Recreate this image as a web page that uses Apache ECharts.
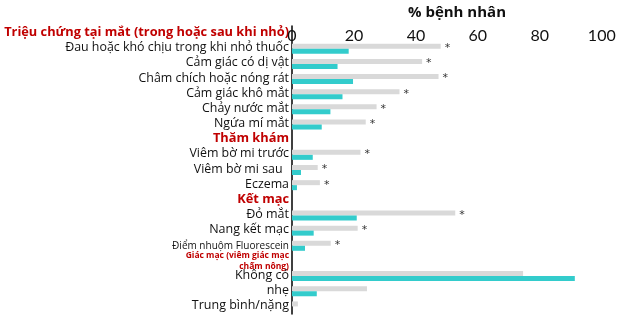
<!DOCTYPE html>
<html>
<head>
<meta charset="utf-8">
<script src="https://cdn.jsdelivr.net/npm/echarts@6/dist/echarts.min.js"></script>
<style>
    html, body { margin: 0; padding: 0; background: #fff; }
    #chart { width: 624px; height: 323px; }
</style>
</head>
<body>
<div id="chart"></div>
<script>
// rows top to bottom, section headers are empty rows
let categories = [
    "Triệu chứng tại mắt (trong hoặc sau khi nhỏ)",
    "Đau hoặc khó chịu trong khi nhỏ thuốc",
    "Cảm giác có dị vật",
    "Châm chích hoặc nóng rát",
    "Cảm giác khô mắt",
    "Chảy nước mắt",
    "Ngứa mí mắt",
    "Thăm khám",
    "Viêm bờ mi trước",
    "Viêm bờ mi sau  ",
    "Eczema",
    "Kết mạc",
    "Đỏ mắt",
    "Nang kết mạc",
    "Điểm nhuộm Fluorescein",
    "Giác mạc (viêm giác mạc\nchấm nông)",
    "Không có",
    "nhẹ",
    "Trung bình/nặng"
];
let greyValues = [null, 48, 42, 47.3, 34.7, 27.3, 23.8, null, 22.1, 8.3, 9, null, 52.7, 21.2, 12.5, null, 74.6, 24.2, 1.9];
let tealValues = [null, 18.3, 14.7, 19.7, 16.3, 12.4, 9.6, null, 6.7, 2.9, 1.6, null, 20.9, 7, 4.2, null, 91.3, 8, 0];
let starred = [false, true, true, true, true, true, true, false, true, true, true, false, true, true, true, false, false, false, false];
let xTicks = [0, 20, 40, 60, 80, 100];

let headers = ["Triệu chứng tại mắt (trong hoặc sau khi nhỏ)", "Thăm khám", "Kết mạc"];
let bigLabels = ["Đỏ mắt", "Nang kết mạc", "Không có", "nhẹ", "Trung bình/nặng"];

function labelStyle(name) {
    if (headers.indexOf(name) >= 0) return "h";
    if (name.indexOf("Giác mạc") === 0) return "hs";
    if (name.indexOf("Fluorescein") >= 0) return "s";
    if (bigLabels.indexOf(name) >= 0) return "b";
    return "n";
}

let chart = echarts.init(document.getElementById("chart"));
let font = "Lato, 'Open Sans', sans-serif";
let textFont = "'Open Sans', sans-serif";
let option = {
    animation: false,
    grid: {
        left: 292,
        right: 12,
        top: 24,
        bottom: 9,
    },
    xAxis: {
        type: "value",
        position: "top",
        min: 0,
        max: 103.3,
        interval: 20,
        name: "% bệnh nhân",
        nameLocation: "middle",
        nameGap: 6,
        nameTextStyle: {
            fontFamily: textFont,
            fontWeight: "bold",
            fontSize: 15,
            color: "#111",
            padding: [0, 0, 0, 10]
        },
        axisLine: {
            lineStyle: { color: "#000", width: 1.5 }
        },
        axisTick: { show: false },
        splitLine: { show: false },
        axisLabel: {
            inside: true,
            margin: 2,
            fontFamily: font,
            fontSize: 16,
            color: "#111",
            showMaxLabel: false,
            formatter: function (v) {
                return xTicks.indexOf(v) >= 0 ? String(v) : "";
            }
        }
    },
    yAxis: {
        type: "category",
        inverse: true,
        data: categories,
        axisLine: {
            lineStyle: { color: "#000", width: 1.5 }
        },
        axisTick: { show: false },
        axisLabel: {
            margin: 3,
            interval: 0,
            formatter: function (name) {
                let st = labelStyle(name);
                return name.split("\n").map(s => "{" + st + "|" + s + "}").join("\n");
            },
            rich: {
                n: { fontFamily: textFont, fontSize: 12.4, color: "#111", padding: [0, 0, 2, 0] },
                b: { fontFamily: textFont, fontSize: 12.5, color: "#111", padding: [0, 0, 2, 0] },
                s: { fontFamily: textFont, fontSize: 10, color: "#111" },
                h: { fontFamily: textFont, fontSize: 12.8, fontWeight: "bold", color: "#c00000", padding: [0, 0, 2, 0] },
                hs: { fontFamily: textFont, fontSize: 8.5, fontWeight: "bold", color: "#c00000", lineHeight: 11, align: "right" }
            }
        }
    },
    series: [
        {
            name: "grey",
            type: "bar",
            data: greyValues,
            barWidth: 5,
            barGap: "0%",
            itemStyle: { color: "#d9d9d9" },
            label: {
                show: true,
                position: "right",
                distance: 4,
                color: "#333",
                fontSize: 11,
                fontFamily: "'DejaVu Sans', sans-serif",
                offset: [0, 2],
                formatter: function (p) {
                    return starred[p.dataIndex] ? "*" : "";
                }
            }
        },
        {
            name: "teal",
            type: "bar",
            data: tealValues,
            barWidth: 5,
            barGap: "0%",
            itemStyle: { color: "#33cccc" }
        }
    ]
};
chart.setOption(option);
</script>
</body>
</html>
